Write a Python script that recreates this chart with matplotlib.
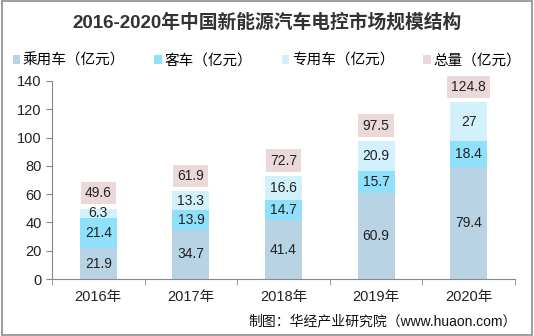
import numpy as np
import matplotlib
matplotlib.use("Agg")
import matplotlib.pyplot as plt
from matplotlib.patches import Rectangle

plt.rcParams['font.family'] = ['Liberation Sans', 'Noto Sans CJK SC', 'DejaVu Sans']

years = ['2016年', '2017年', '2018年', '2019年', '2020年']
passenger = [21.9, 34.7, 41.4, 60.9, 79.4]
bus = [21.4, 13.9, 14.7, 15.7, 18.4]
special = [6.3, 13.3, 16.6, 20.9, 27]
total = [49.6, 61.9, 72.7, 97.5, 124.8]

names = ['乘用车（亿元）', '客车（亿元）', '专用车（亿元）', '总量（亿元）']
colors = ['#B8D3E4', '#8EE0FB', '#D3F1FC', '#EBD9DA']

fig = plt.figure(figsize=(5.34, 3.36), dpi=100)
fig.patches.append(Rectangle((0.003, 0.003), 0.994, 0.994, transform=fig.transFigure,
                             fill=False, edgecolor='#8c8c8c', lw=1.2))

ax = fig.add_axes([0.0974, 0.1696, 0.867, 0.5894])
x = np.arange(len(years))
w = 0.4
ax.bar(x, passenger, w, color=colors[0], label=names[0])
ax.bar(x, bus, w, bottom=passenger, color=colors[1], label=names[1])
bottom2 = np.array(passenger) + np.array(bus)
ax.bar(x, special, w, bottom=bottom2, color=colors[2], label=names[2])
ax.bar([0], [0], w, color=colors[3], label=names[3])

for i in range(len(years)):
    ax.text(x[i], passenger[i] / 2, f'{passenger[i]:g}', ha='center', va='center', fontsize=10, color='#222222')
    ax.text(x[i], passenger[i] + bus[i] / 2, f'{bus[i]:g}', ha='center', va='center', fontsize=10, color='#222222')
    ax.text(x[i], bottom2[i] + special[i] / 2, f'{special[i]:g}', ha='center', va='center', fontsize=10, color='#222222')
    ax.text(x[i], total[i] + 11, f'{total[i]:g}', ha='center', va='center', fontsize=10, color='#222222',
            bbox=dict(boxstyle='square,pad=0.3', facecolor=colors[3], edgecolor='none'))

ax.set_xlim(-0.5, len(years) - 0.5)
ax.set_ylim(0, 140)
ax.set_yticks(range(0, 141, 20))
ax.set_xticks(x)
ax.set_xticklabels(years)
ax.set_xticks(np.arange(-0.5, len(years)), minor=True)
ax.tick_params(axis='x', which='major', length=0, labelsize=10.5, pad=8, colors='#222222')
ax.tick_params(axis='x', which='minor', length=4, color='#888888')
ax.tick_params(axis='y', length=4, labelsize=10.5, colors='#222222', color='#888888')
for s in ['top', 'right']:
    ax.spines[s].set_visible(False)
for s in ['left', 'bottom']:
    ax.spines[s].set_color('#888888')

fig.text(0.5, 0.935, '2016-2020年中国新能源汽车电控市场规模结构', ha='center', va='center',
         fontsize=13.5, fontweight='bold', color='#333333')
fig.legend(loc='center', bbox_to_anchor=(0.5, 0.82), ncol=4, frameon=False, fontsize=10.5,
           handlelength=0.5, handleheight=0.5, handletextpad=0.2, columnspacing=2.0)
fig.text(0.968, 0.045, '制图：华经产业研究院（www.huaon.com）', ha='right', va='center',
         fontsize=10, color='#111111')

fig.savefig('out.png', dpi=100)
